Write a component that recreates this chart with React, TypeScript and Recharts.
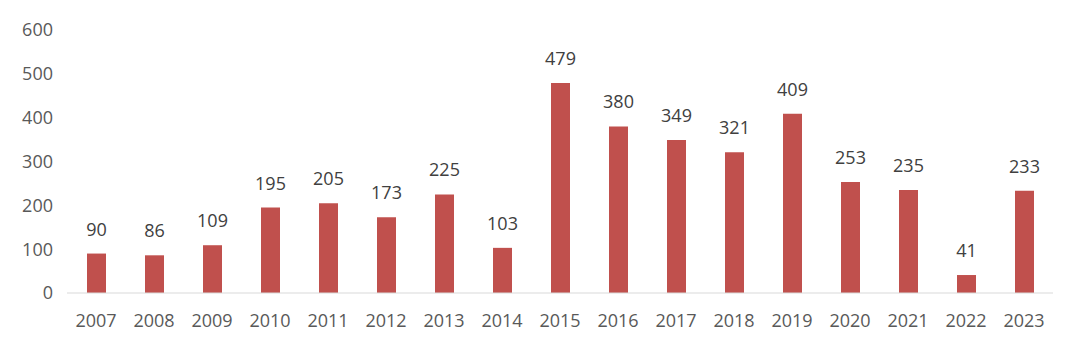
import React from "react";
import { BarChart, Bar, XAxis, YAxis, LabelList } from "recharts";

const years = ["2007","2008","2009","2010","2011","2012","2013","2014","2015","2016","2017","2018","2019","2020","2021","2022","2023"];
const values = [90, 86, 109, 195, 205, 173, 225, 103, 479, 380, 349, 321, 409, 253, 235, 41, 233];
const yTicks = [0, 100, 200, 300, 400, 500, 600];

const data = years.map((y, i) => ({ year: y, value: values[i] }));

const font = "'Open Sans', sans-serif";

export default function App() {
  return (
    <div style={{ position: "absolute", left: 0, top: 0, width: 1080, height: 353, background: "#fff" }}>
      <BarChart
        width={1080}
        height={353}
        data={data}
        margin={{ top: 30, right: 27, bottom: 0, left: 0 }}
      >
        <XAxis
          dataKey="year"
          tickLine={false}
          tickSize={0}
          tickMargin={21}
          height={60}
          axisLine={{ stroke: "#d9d9d9", strokeWidth: 1 }}
          tick={{ fill: "#595959", fontSize: 18, fontFamily: font }}
          interval={0}
        />
        <YAxis
          domain={[0, 600]}
          ticks={yTicks}
          width={67}
          axisLine={false}
          tickLine={false}
          tickSize={0}
          tickMargin={14}
          tick={{ fill: "#595959", fontSize: 18, fontFamily: font }}
        />
        <Bar dataKey="value" fill="#C0504D" barSize={19} isAnimationActive={false}>
          <LabelList
            dataKey="value"
            position="top"
            offset={18}
            style={{ fill: "#404040", fontSize: 18, fontFamily: font }}
          />
        </Bar>
      </BarChart>
    </div>
  );
}
